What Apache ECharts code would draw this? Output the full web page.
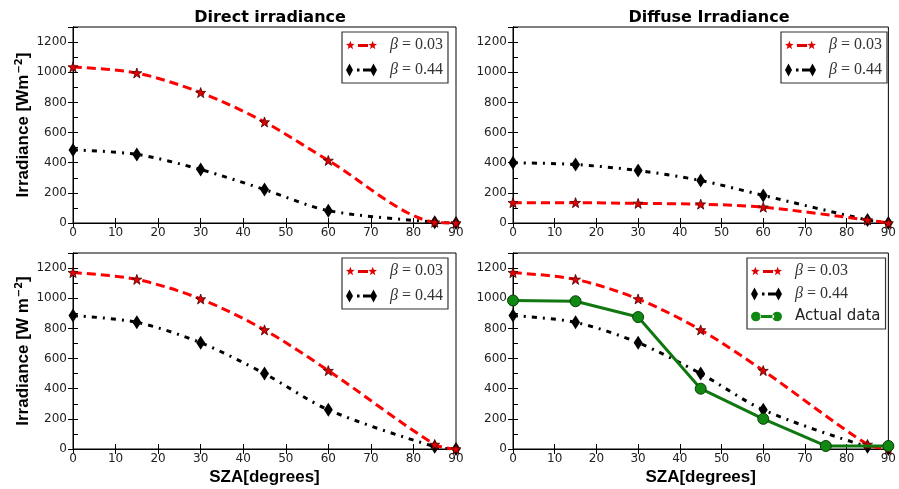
<!DOCTYPE html>
<html>
<head>
<meta charset="utf-8">
<script src="https://cdn.jsdelivr.net/npm/echarts@6/dist/echarts.min.js"></script>
<style>
  html, body { margin: 0; padding: 0; background: #fff; }
  #chart { width: 899px; height: 489px; }
</style>
</head>
<body>
<div id="chart"></div>
<script>
// solar zenith angles of the model points
const sza = [0, 15, 30, 45, 60, 85, 90];
const szaActual = [0, 15, 30, 45, 60, 75, 90];
const xTicks = [0, 10, 20, 30, 40, 50, 60, 70, 80, 90];
const yTicks = [0, 200, 400, 600, 800, 1000, 1200];

// direct irradiance
const directLow = [1035, 995, 865, 670, 415, 5, 0];
const directHigh = [485, 455, 355, 222, 82, 5, 0];
// diffuse irradiance
const diffuseLow = [135, 135, 130, 125, 105, 20, 0];
const diffuseHigh = [400, 388, 348, 282, 183, 20, 0];
// global irradiance (bottom row)
const globalLow = [1170, 1125, 995, 790, 520, 30, 0];
const globalHigh = [885, 840, 705, 500, 260, 15, 0];
const actualData = [985, 980, 875, 400, 200, 20, 20];

const titles = ['Direct irradiance', 'Diffuse Irradiance'];
const nameLow = 'β=0.03';
const nameHigh = 'β=0.44';
const nameActual = 'Actual data';

const SANS = 'DejaVu Sans';
const BOLDSANS = 'Liberation Sans';

// star outline centred on (cx, cy)
function starPath(cx, cy, ro, ri) {
    let d = '';
    for (let k = 0; k < 10; k++) {
        const r = k % 2 ? ri : ro;
        const a = -Math.PI / 2 + k * Math.PI / 5;
        d += (k ? 'L' : 'M') + (cx + r * Math.cos(a)).toFixed(2) + ',' + (cy + r * Math.sin(a)).toFixed(2) + ' ';
    }
    return d + 'Z ';
}
function rect(x0, x1, cy, h) {
    return 'M' + x0 + ',' + (cy - h / 2) + ' L' + x1 + ',' + (cy - h / 2) + ' L' + x1 + ',' + (cy + h / 2) + ' L' + x0 + ',' + (cy + h / 2) + ' Z ';
}
function diamond(cx, cy, w, h) {
    return 'M' + cx + ',' + (cy - h / 2) + ' L' + (cx + w / 2) + ',' + cy + ' L' + cx + ',' + (cy + h / 2) + ' L' + (cx - w / 2) + ',' + cy + ' Z ';
}
function circle(cx, cy, r) {
    return 'M' + (cx - r) + ',' + cy + ' A' + r + ',' + r + ' 0 1,0 ' + (cx + r) + ',' + cy + ' A' + r + ',' + r + ' 0 1,0 ' + (cx - r) + ',' + cy + ' Z ';
}

const STAR = 'path://' + starPath(50, 50, 50, 20);
// legend samples: marker, line pattern, marker (like the original legend)
const ICON_LOW = 'path://' + starPath(4.5, 7, 4.5, 1.9) + rect(12, 22, 7, 3) + starPath(26.5, 7, 4.5, 1.9);
const ICON_HIGH = 'path://' + diamond(3.5, 7, 7, 13) + rect(11, 13.5, 7, 3) + rect(17, 25, 7, 3) + diamond(27.5, 7, 7, 13);
const ICON_ACTUAL = 'path://' + circle(5, 7, 4.8) + rect(9, 23, 7, 3) + circle(26, 7, 4.8);

function pairs(xs, ys) {
    return xs.map((x, i) => [x, ys[i]]);
}

const grids = [
    { left: 73, top: 27, width: 383, height: 196 },
    { left: 513, top: 27, width: 382, height: 196 },
    { left: 73, top: 253, width: 383, height: 196 },
    { left: 513, top: 253, width: 382, height: 196 }
];

const xAxes = [];
const yAxes = [];
grids.forEach((g, i) => {
    xAxes.push({
        type: 'value', gridIndex: i, min: xTicks[0], max: xTicks[xTicks.length - 1], interval: 10,
        axisLine: { lineStyle: { color: '#000', width: 1 } },
        axisTick: { inside: true, length: 5, lineStyle: { color: '#000' } },
        axisLabel: { color: '#222', fontFamily: SANS, fontSize: 12, margin: 4 },
        splitLine: { show: false },
        name: i >= 2 ? 'SZA[degrees]' : '',
        nameLocation: 'middle', nameGap: 20,
        nameTextStyle: { fontFamily: BOLDSANS, fontWeight: 'bold', fontSize: 17, color: '#000' }
    });
    yAxes.push({
        type: 'value', gridIndex: i, min: 0, max: 1300, interval: 100,
        axisLine: { lineStyle: { color: '#000', width: 1 } },
        axisTick: { inside: true, length: 5, lineStyle: { color: '#000' } },
        axisLabel: {
            color: '#222', fontFamily: SANS, fontSize: 12, margin: 6,
            formatter: v => yTicks.includes(v) ? String(v) : ''
        },
        splitLine: { show: false },
        name: i === 0 ? 'Irradiance [Wm{sup|−2}]' : (i === 2 ? 'Irradiance [W m{sup|−2}]' : ''),
        nameLocation: 'middle', nameRotate: 90, nameGap: 40,
        nameTextStyle: {
            fontFamily: BOLDSANS, fontWeight: 'bold', fontSize: 17, color: '#000',
            rich: { sup: { fontFamily: SANS, fontSize: 10, color: '#000', padding: [0, 0, 9, 1] } }
        }
    });
});
// mirrored ticks on top / right edges
grids.forEach((g, i) => {
    xAxes.push({
        type: 'value', gridIndex: i, position: 'top', min: 0, max: 90, interval: 10,
        axisLine: { lineStyle: { color: '#000' } },
        axisTick: { inside: true, length: 5, lineStyle: { color: '#000' } },
        axisLabel: { show: false }, splitLine: { show: false }
    });
    yAxes.push({
        type: 'value', gridIndex: i, position: 'right', min: 0, max: 1300, interval: 200,
        axisLine: { lineStyle: { color: '#000' } },
        axisTick: { inside: true, length: 5, lineStyle: { color: '#000' } },
        axisLabel: { show: false }, splitLine: { show: false }
    });
});

function lowSeries(i, vals) {
    return {
        type: 'line', name: nameLow, xAxisIndex: i, yAxisIndex: i,
        data: pairs(sza, vals), smooth: 0.3,
        symbol: STAR, symbolSize: 10,
        lineStyle: { color: '#ff0000', width: 3, type: [9, 5] },
        itemStyle: { color: '#e00000', borderColor: '#400', borderWidth: 0.8 },
        z: 3
    };
}
function highSeries(i, vals) {
    return {
        type: 'line', name: nameHigh, xAxisIndex: i, yAxisIndex: i,
        data: pairs(sza, vals), smooth: 0.3,
        symbol: 'diamond', symbolSize: [9, 14],
        lineStyle: { color: '#000', width: 3, type: [5, 6, 2, 6] },
        itemStyle: { color: '#000' },
        z: 2
    };
}

const series = [
    lowSeries(0, directLow), highSeries(0, directHigh),
    lowSeries(1, diffuseLow), highSeries(1, diffuseHigh),
    lowSeries(2, globalLow), highSeries(2, globalHigh),
    lowSeries(3, globalLow), highSeries(3, globalHigh),
    {
        type: 'line', name: nameActual, xAxisIndex: 3, yAxisIndex: 3,
        data: pairs(szaActual, actualData),
        symbol: 'circle', symbolSize: 11,
        lineStyle: { color: '#117711', width: 3 },
        itemStyle: { color: '#118811', borderColor: '#064006', borderWidth: 1 },
        z: 4
    }
];

const icons = {};
icons[nameLow] = ICON_LOW;
icons[nameHigh] = ICON_HIGH;
icons[nameActual] = ICON_ACTUAL;

function legendAt(left, top, names, gap) {
    return {
        orient: 'vertical', left: left, top: top,
        data: names.map(n => ({ name: n, icon: icons[n] })),
        selectedMode: false,
        borderColor: '#333', borderWidth: 1.2, borderRadius: 0,
        padding: [5, 5, 5, 4], itemGap: gap, itemWidth: 31, itemHeight: 14,
        itemStyle: { borderWidth: 0 },
        textStyle: {
            color: '#333', fontFamily: 'Liberation Serif', fontSize: 16,
            rich: {
                b: { fontFamily: 'Liberation Serif', fontStyle: 'italic', fontSize: 16, color: '#333', padding: [0, 0, 0, 8] },
                t: { fontFamily: 'Liberation Serif', fontSize: 16, color: '#333' },
                s: { fontFamily: SANS, fontSize: 15, color: '#222', padding: [0, 0, 0, 8] }
            }
        },
        formatter: n => n === nameActual ? '{s|' + n + '}' : '{b|β}{t| = ' + n.slice(2) + '}'
    };
}

const option = {
    animation: false,
    backgroundColor: '#fff',
    title: [
        { text: titles[0], left: 265, top: 5, textAlign: 'center',
          textStyle: { fontFamily: SANS, fontWeight: 'bold', fontSize: 16, color: '#000' } },
        { text: titles[1], left: 704, top: 5, textAlign: 'center',
          textStyle: { fontFamily: SANS, fontWeight: 'bold', fontSize: 16, color: '#000' } }
    ],
    grid: grids.map(g => Object.assign({ show: true, borderColor: '#000', borderWidth: 1 }, g)),
    xAxis: xAxes,
    yAxis: yAxes,
    legend: [
        legendAt(342, 32, [nameLow, nameHigh], 9),
        legendAt(781, 32, [nameLow, nameHigh], 9),
        legendAt(342, 258, [nameLow, nameHigh], 9),
        legendAt(747, 258, [nameLow, nameHigh, nameActual], 7)
    ],
    series: series
};

const chart = echarts.init(document.getElementById('chart'));
chart.setOption(option);
</script>
</body>
</html>
